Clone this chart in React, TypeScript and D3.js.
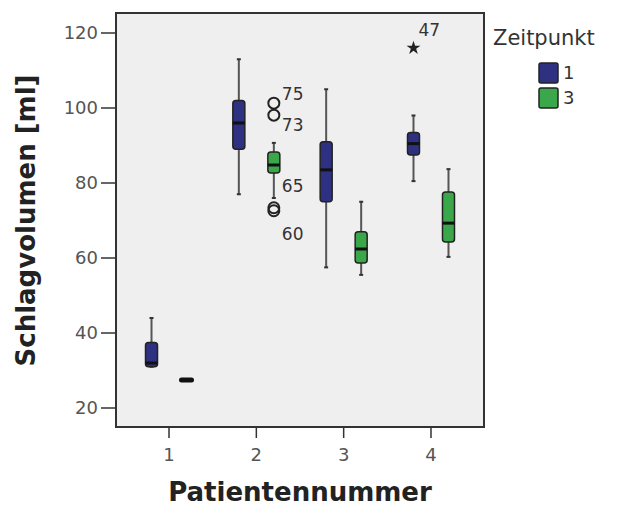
import React from 'react';
import * as d3 from 'd3';

// Patientennummer / Zeitpunkt
const patients = ['1', '2', '3', '4'];
const zeitpunkte = ['1', '3'];
const seriesColors = ['#2e3082', '#3aa84a'];

// box stats per patient, one list per Zeitpunkt: [min, q1, median, q3, max]
const statsZ1 = [
  [31, 31, 32, 37.5, 44],
  [77, 89, 96, 102, 113],
  [57.5, 75, 83.5, 91, 105],
  [80.5, 87.5, 90.5, 93.5, 98],
];
const statsZ3 = [
  [27.5, 27.5, 27.5, 27.5, 27.5],
  [76, 82.7, 84.8, 88.3, 90.7],
  [55.5, 58.7, 62.4, 67, 75],
  [60.3, 64.3, 69.3, 77.6, 83.7],
];

// outliers
const outlierPatient = ['2', '2', '2', '2', '4'];
const outlierZeit = ['3', '3', '3', '3', '1'];
const outlierValue = [101.3, 98.1, 73.4, 72.6, 116];
const outlierLabel = ['75', '73', '65', '60', '47'];
const outlierKind = ['circle', 'circle', 'circle', 'circle', 'star'];

const yTicks = [20, 40, 60, 80, 100, 120];

const W = 622;
const H = 510;
const frame = { left: 116, right: 484, top: 13, bottom: 427 };
// case label offsets (dx, dy) next to each outlier
const labelOffset: Record<string, [number, number]> = {
  '75': [8, -9], '73': [8, 10], '65': [8, -22], '60': [8, 23], '47': [5, -18],
};

export default function App() {
  const x = d3.scalePoint<string>().domain(patients).range([frame.left, frame.right]).padding(0.607);
  const xSub = d3.scaleBand<string>().domain(zeitpunkte).range([-35, 35]);
  const y = d3.scaleLinear().domain([20, 120]).range([408, 33]);
  const boxW = 12;
  const font = 'DejaVu Sans, Verdana, sans-serif';

  const allStats = [statsZ1, statsZ3];

  const star = d3.symbol().type(d3.symbolStar).size(60)();

  return (
    <svg width={W} height={H} style={{ position: 'absolute', left: 0, top: 0, background: '#fff' }}>
      <rect x={frame.left} y={frame.top} width={frame.right - frame.left} height={frame.bottom - frame.top}
        fill="#efefef" stroke="#333" strokeWidth={2} />

      {/* y axis */}
      {yTicks.map(t => (
        <g key={t}>
          <line x1={frame.left - 15} x2={frame.left} y1={y(t)} y2={y(t)} stroke="#333" strokeWidth={1.5} />
          <text x={frame.left - 18} y={y(t)} dy="0.35em" textAnchor="end" fontFamily={font} fontSize={18} fill="#555">{t}</text>
        </g>
      ))}
      {/* x axis */}
      {patients.map(p => (
        <g key={p}>
          <line x1={x(p)} x2={x(p)} y1={frame.bottom} y2={frame.bottom + 11} stroke="#333" strokeWidth={1.5} />
          <text x={x(p)} y={455} dy="0.35em" textAnchor="middle" fontFamily={font} fontSize={18} fill="#555">{p}</text>
        </g>
      ))}

      {/* boxes */}
      {allStats.map((series, si) => series.map((s, pi) => {
        const cx = (x(patients[pi]) as number) + (xSub(zeitpunkte[si]) as number) + xSub.bandwidth() / 2;
        const [mn, q1, med, q3, mx] = s;
        const flat = q3 - q1 < 0.5;
        return (
          <g key={si + '-' + pi}>
            {!flat && (
              <>
                <line x1={cx} x2={cx} y1={y(mx)} y2={y(q3)} stroke="#555" strokeWidth={2} />
                <line x1={cx} x2={cx} y1={y(q1)} y2={y(mn)} stroke="#555" strokeWidth={2} />
                <line x1={cx - 2} x2={cx + 2} y1={y(mx)} y2={y(mx)} stroke="#333" strokeWidth={2} />
                <line x1={cx - 2} x2={cx + 2} y1={y(mn)} y2={y(mn)} stroke="#333" strokeWidth={2} />
                <rect x={cx - boxW / 2} y={y(q3)} width={boxW} height={y(q1) - y(q3)} rx={3}
                  fill={seriesColors[si]} stroke="#222" strokeWidth={1.5} />
              </>
            )}
            <line x1={cx - boxW / 2 + (flat ? 1 : 0)} x2={cx + boxW / 2 - (flat ? 1 : 0)} y1={y(med)} y2={y(med)}
              stroke="#111" strokeWidth={flat ? 5 : 3} strokeLinecap={flat ? 'round' : 'butt'} />
          </g>
        );
      }))}

      {/* outliers */}
      {outlierValue.map((v, i) => {
        const cx = (x(outlierPatient[i]) as number) + (xSub(outlierZeit[i]) as number) + xSub.bandwidth() / 2;
        const cy = y(v);
        const [dx, dy] = labelOffset[outlierLabel[i]];
        return (
          <g key={i}>
            {outlierKind[i] === 'circle'
              ? <circle cx={cx} cy={cy} r={5.5} fill="none" stroke="#222" strokeWidth={2} />
              : <path d={star as string} transform={`translate(${cx},${cy})`} fill="#222" />}
            <text x={cx + dx} y={cy + dy} dy="0.35em" fontFamily={font} fontSize={17} fill="#333">{outlierLabel[i]}</text>
          </g>
        );
      })}

      {/* axis titles */}
      <text x={(frame.left + frame.right) / 2} y={501} textAnchor="middle" fontFamily={font} fontWeight="bold" fontSize={26} fill="#222">Patientennummer</text>
      <text transform={`translate(35,${(y(20) + y(120)) / 2}) rotate(-90)`} textAnchor="middle" fontFamily={font} fontWeight="bold" fontSize={26} fill="#222">Schlagvolumen [ml]</text>

      {/* legend */}
      <text x={493} y={45} fontFamily={font} fontSize={21} fill="#333">Zeitpunkt</text>
      {zeitpunkte.map((z, i) => (
        <g key={z}>
          <rect x={539} y={63 + i * 25} width={19} height={20} rx={2} fill={seriesColors[i]} stroke="#222" strokeWidth={1.5} />
          <text x={563} y={73 + i * 25} dy="0.35em" fontFamily={font} fontSize={18} fill="#333">{z}</text>
        </g>
      ))}
    </svg>
  );
}
